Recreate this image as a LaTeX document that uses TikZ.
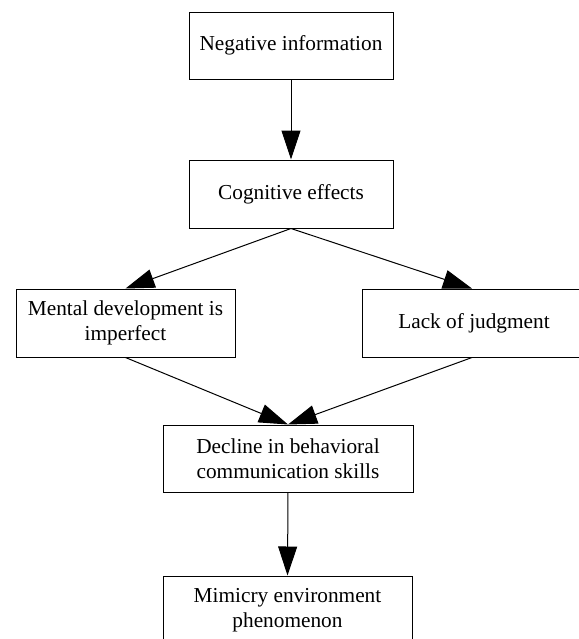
\documentclass[tikz,border=0pt]{standalone}
\usepackage{fontspec}
\setmainfont{Liberation Serif}
\usetikzlibrary{arrows.meta}
\begin{document}
\begin{tikzpicture}[x=0.5pt,y=-0.5pt,
  box/.style={draw=black, line width=0.5pt, inner sep=0pt, align=center,
    font=\fontsize{10.65pt}{12.5pt}\selectfont},
  arr/.style={line width=0.5pt, -{Triangle[length=14.5pt,width=9.5pt]}}]
\useasboundingbox (0,0) rectangle (579,639);
\node[box, minimum width=102pt, minimum height=33.5pt] (b1) at (291,45.5) {Negative information};
\node[box, minimum width=102pt, minimum height=34pt] (b2) at (291,194) {Cognitive effects};
\node[box, minimum width=109.5pt, minimum height=34pt] (b3) at (125.5,323) {Mental development is\\imperfect};
\node[box, minimum width=112pt, minimum height=34pt] (b4) at (474,323) {Lack of judgment};
\node[box, minimum width=125pt, minimum height=33.5pt] (b5) at (288,458.5) {Decline in behavioral\\communication skills};
\node[box, minimum width=124.5pt, minimum height=34pt] (b6) at (287.5,610) {Mimicry environment\\phenomenon};
\draw[arr] (b1.south) -- (b2.north);
\draw[arr] (b2.south) -- (b3.north);
\draw[arr] (b2.south) -- ([xshift=-1pt]b4.north);
\draw[arr] (b3.south) -- (b5.north);
\draw[arr] ([xshift=-1pt]b4.south) -- (b5.north);
\draw[arr] (b5.south) -- (b6.north);
\end{tikzpicture}
\end{document}
